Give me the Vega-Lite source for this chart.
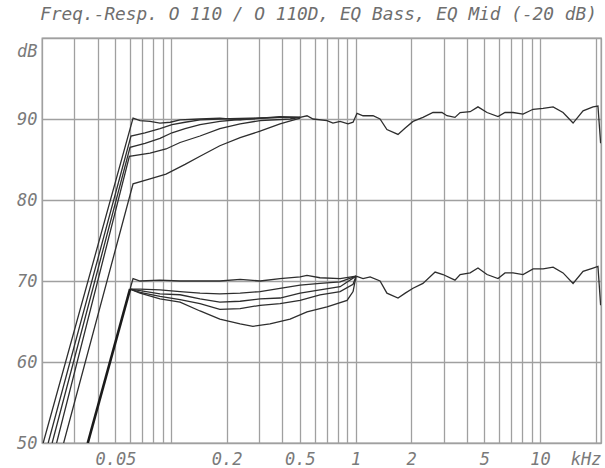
{
  "$schema": "https://vega.github.io/schema/vega-lite/v6.json",
  "width": 559,
  "height": 405,
  "autosize": "none",
  "padding": {"left": 42, "top": 38, "right": 4, "bottom": 25},
  "background": "white",
  "config": {
    "view": {"stroke": "#9a9a9a", "strokeWidth": 1.3},
    "axis": {
      "labelFont": "DejaVu Sans Mono",
      "labelFontStyle": "italic",
      "labelFontSize": 17,
      "labelColor": "#7a7a7a",
      "gridColor": "#a0a0a0",
      "gridWidth": 1.3,
      "gridOpacity": 1,
      "domain": false,
      "ticks": false,
      "title": null
    }
  },
  "title": {
    "text": "Freq.-Resp. O 110 / O 110D, EQ Bass, EQ Mid (-20 dB)",
    "font": "DejaVu Sans Mono",
    "fontSize": 17.8,
    "fontStyle": "italic",
    "fontWeight": "normal",
    "color": "#6e6e6e",
    "anchor": "middle",
    "offset": 14,
    "dx": -3
  },
  "datasets": {
    "curves": [
      {"s": "U1", "f": 0.0203, "db": 50}, {"s": "U1", "f": 0.0623, "db": 90.1}, {"s": "U1", "f": 0.068, "db": 89.8}, {"s": "U1", "f": 0.077, "db": 89.7}, {"s": "U1", "f": 0.0872, "db": 89.5}, {"s": "U1", "f": 0.099, "db": 89.6}, {"s": "U1", "f": 0.112, "db": 89.9}, {"s": "U1", "f": 0.1437, "db": 90.0}, {"s": "U1", "f": 0.184, "db": 90.1}, {"s": "U1", "f": 0.237, "db": 89.9}, {"s": "U1", "f": 0.304, "db": 90.1}, {"s": "U1", "f": 0.39, "db": 90.3}, {"s": "U1", "f": 0.501, "db": 90.2},
      {"s": "U2", "f": 0.0216, "db": 50}, {"s": "U2", "f": 0.0607, "db": 87.9}, {"s": "U2", "f": 0.0723, "db": 88.3}, {"s": "U2", "f": 0.0872, "db": 88.8}, {"s": "U2", "f": 0.1013, "db": 89.3}, {"s": "U2", "f": 0.1192, "db": 89.6}, {"s": "U2", "f": 0.1437, "db": 89.9}, {"s": "U2", "f": 0.184, "db": 90.0}, {"s": "U2", "f": 0.268, "db": 90.1}, {"s": "U2", "f": 0.39, "db": 90.2}, {"s": "U2", "f": 0.501, "db": 90.2},
      {"s": "U3", "f": 0.0227, "db": 50}, {"s": "U3", "f": 0.06, "db": 86.5}, {"s": "U3", "f": 0.0723, "db": 87.0}, {"s": "U3", "f": 0.0872, "db": 87.6}, {"s": "U3", "f": 0.1013, "db": 88.3}, {"s": "U3", "f": 0.1192, "db": 88.8}, {"s": "U3", "f": 0.1437, "db": 89.3}, {"s": "U3", "f": 0.184, "db": 89.7}, {"s": "U3", "f": 0.252, "db": 90.0}, {"s": "U3", "f": 0.39, "db": 90.2}, {"s": "U3", "f": 0.501, "db": 90.2},
      {"s": "U4", "f": 0.0240, "db": 50}, {"s": "U4", "f": 0.0595, "db": 85.4}, {"s": "U4", "f": 0.077, "db": 85.8}, {"s": "U4", "f": 0.094, "db": 86.3}, {"s": "U4", "f": 0.112, "db": 87.1}, {"s": "U4", "f": 0.1437, "db": 87.9}, {"s": "U4", "f": 0.184, "db": 88.8}, {"s": "U4", "f": 0.237, "db": 89.4}, {"s": "U4", "f": 0.304, "db": 89.8}, {"s": "U4", "f": 0.442, "db": 90.0}, {"s": "U4", "f": 0.501, "db": 90.2},
      {"s": "U5", "f": 0.0262, "db": 50}, {"s": "U5", "f": 0.0623, "db": 82.0}, {"s": "U5", "f": 0.077, "db": 82.6}, {"s": "U5", "f": 0.094, "db": 83.2}, {"s": "U5", "f": 0.1192, "db": 84.4}, {"s": "U5", "f": 0.1437, "db": 85.4}, {"s": "U5", "f": 0.184, "db": 86.7}, {"s": "U5", "f": 0.237, "db": 87.7}, {"s": "U5", "f": 0.304, "db": 88.5}, {"s": "U5", "f": 0.39, "db": 89.4}, {"s": "U5", "f": 0.501, "db": 90.1},
      {"s": "UT", "f": 0.501, "db": 90.2}, {"s": "UT", "f": 0.546, "db": 90.4}, {"s": "UT", "f": 0.589, "db": 90.0}, {"s": "UT", "f": 0.701, "db": 89.8}, {"s": "UT", "f": 0.755, "db": 89.5}, {"s": "UT", "f": 0.825, "db": 89.7}, {"s": "UT", "f": 0.911, "db": 89.4}, {"s": "UT", "f": 0.97, "db": 89.6}, {"s": "UT", "f": 1.019, "db": 90.7}, {"s": "UT", "f": 1.099, "db": 90.4}, {"s": "UT", "f": 1.245, "db": 90.4}, {"s": "UT", "f": 1.358, "db": 90.0}, {"s": "UT", "f": 1.48, "db": 88.7}, {"s": "UT", "f": 1.7, "db": 88.1}, {"s": "UT", "f": 1.86, "db": 88.9}, {"s": "UT", "f": 2.05, "db": 89.7}, {"s": "UT", "f": 2.32, "db": 90.2}, {"s": "UT", "f": 2.63, "db": 90.8}, {"s": "UT", "f": 2.94, "db": 90.8}, {"s": "UT", "f": 3.13, "db": 90.4}, {"s": "UT", "f": 3.46, "db": 90.2}, {"s": "UT", "f": 3.69, "db": 90.8}, {"s": "UT", "f": 4.18, "db": 90.9}, {"s": "UT", "f": 4.61, "db": 91.5}, {"s": "UT", "f": 5.16, "db": 90.8}, {"s": "UT", "f": 5.92, "db": 90.3}, {"s": "UT", "f": 6.46, "db": 90.8}, {"s": "UT", "f": 7.14, "db": 90.8}, {"s": "UT", "f": 8.09, "db": 90.6}, {"s": "UT", "f": 9.17, "db": 91.2}, {"s": "UT", "f": 10.39, "db": 91.3}, {"s": "UT", "f": 11.77, "db": 91.5}, {"s": "UT", "f": 13.33, "db": 90.8}, {"s": "UT", "f": 15.1, "db": 89.5}, {"s": "UT", "f": 17.11, "db": 91.0}, {"s": "UT", "f": 19.38, "db": 91.5}, {"s": "UT", "f": 20.6, "db": 91.6}, {"s": "UT", "f": 21.3, "db": 87.0},
      {"s": "L1", "f": 0.06, "db": 69}, {"s": "L1", "f": 0.0623, "db": 70.3}, {"s": "L1", "f": 0.068, "db": 70.0}, {"s": "L1", "f": 0.0872, "db": 70.1}, {"s": "L1", "f": 0.112, "db": 70.0}, {"s": "L1", "f": 0.1437, "db": 70.0}, {"s": "L1", "f": 0.184, "db": 70.0}, {"s": "L1", "f": 0.237, "db": 70.2}, {"s": "L1", "f": 0.304, "db": 70.0}, {"s": "L1", "f": 0.39, "db": 70.3}, {"s": "L1", "f": 0.501, "db": 70.5}, {"s": "L1", "f": 0.546, "db": 70.7}, {"s": "L1", "f": 0.642, "db": 70.4}, {"s": "L1", "f": 0.825, "db": 70.3}, {"s": "L1", "f": 1.007, "db": 70.6},
      {"s": "L2", "f": 0.06, "db": 69}, {"s": "L2", "f": 0.068, "db": 69.0}, {"s": "L2", "f": 0.0872, "db": 68.9}, {"s": "L2", "f": 0.112, "db": 68.7}, {"s": "L2", "f": 0.1437, "db": 68.5}, {"s": "L2", "f": 0.184, "db": 68.4}, {"s": "L2", "f": 0.237, "db": 68.5}, {"s": "L2", "f": 0.304, "db": 68.7}, {"s": "L2", "f": 0.39, "db": 69.1}, {"s": "L2", "f": 0.501, "db": 69.5}, {"s": "L2", "f": 0.642, "db": 69.7}, {"s": "L2", "f": 0.825, "db": 69.9}, {"s": "L2", "f": 1.007, "db": 70.6},
      {"s": "L3", "f": 0.06, "db": 69}, {"s": "L3", "f": 0.068, "db": 68.8}, {"s": "L3", "f": 0.0872, "db": 68.4}, {"s": "L3", "f": 0.112, "db": 68.3}, {"s": "L3", "f": 0.1437, "db": 67.8}, {"s": "L3", "f": 0.184, "db": 67.4}, {"s": "L3", "f": 0.237, "db": 67.5}, {"s": "L3", "f": 0.304, "db": 67.8}, {"s": "L3", "f": 0.39, "db": 67.9}, {"s": "L3", "f": 0.501, "db": 68.5}, {"s": "L3", "f": 0.642, "db": 68.9}, {"s": "L3", "f": 0.825, "db": 69.3}, {"s": "L3", "f": 1.007, "db": 70.6},
      {"s": "L4", "f": 0.06, "db": 69}, {"s": "L4", "f": 0.068, "db": 68.6}, {"s": "L4", "f": 0.0872, "db": 68.1}, {"s": "L4", "f": 0.112, "db": 67.7}, {"s": "L4", "f": 0.1437, "db": 67.2}, {"s": "L4", "f": 0.184, "db": 66.5}, {"s": "L4", "f": 0.237, "db": 66.6}, {"s": "L4", "f": 0.304, "db": 67.0}, {"s": "L4", "f": 0.39, "db": 67.2}, {"s": "L4", "f": 0.501, "db": 67.6}, {"s": "L4", "f": 0.642, "db": 68.3}, {"s": "L4", "f": 0.825, "db": 68.7}, {"s": "L4", "f": 0.97, "db": 69.6}, {"s": "L4", "f": 1.007, "db": 70.6},
      {"s": "L5", "f": 0.06, "db": 69}, {"s": "L5", "f": 0.068, "db": 68.5}, {"s": "L5", "f": 0.0872, "db": 67.8}, {"s": "L5", "f": 0.112, "db": 67.4}, {"s": "L5", "f": 0.1437, "db": 66.3}, {"s": "L5", "f": 0.184, "db": 65.3}, {"s": "L5", "f": 0.237, "db": 64.7}, {"s": "L5", "f": 0.278, "db": 64.4}, {"s": "L5", "f": 0.344, "db": 64.7}, {"s": "L5", "f": 0.442, "db": 65.3}, {"s": "L5", "f": 0.546, "db": 66.2}, {"s": "L5", "f": 0.701, "db": 66.8}, {"s": "L5", "f": 0.9, "db": 67.6}, {"s": "L5", "f": 0.97, "db": 68.7}, {"s": "L5", "f": 1.007, "db": 70.6},
      {"s": "LT", "f": 1.007, "db": 70.6}, {"s": "LT", "f": 1.099, "db": 70.3}, {"s": "LT", "f": 1.2, "db": 70.5}, {"s": "LT", "f": 1.358, "db": 70.0}, {"s": "LT", "f": 1.48, "db": 68.5}, {"s": "LT", "f": 1.7, "db": 67.9}, {"s": "LT", "f": 1.86, "db": 68.5}, {"s": "LT", "f": 2.05, "db": 69.1}, {"s": "LT", "f": 2.32, "db": 69.7}, {"s": "LT", "f": 2.7, "db": 71.1}, {"s": "LT", "f": 2.98, "db": 70.8}, {"s": "LT", "f": 3.46, "db": 70.1}, {"s": "LT", "f": 3.69, "db": 70.8}, {"s": "LT", "f": 4.18, "db": 71.0}, {"s": "LT", "f": 4.61, "db": 71.6}, {"s": "LT", "f": 5.16, "db": 70.8}, {"s": "LT", "f": 5.92, "db": 70.3}, {"s": "LT", "f": 6.46, "db": 71.0}, {"s": "LT", "f": 7.14, "db": 71.0}, {"s": "LT", "f": 8.09, "db": 70.8}, {"s": "LT", "f": 9.17, "db": 71.5}, {"s": "LT", "f": 10.39, "db": 71.5}, {"s": "LT", "f": 11.77, "db": 71.7}, {"s": "LT", "f": 13.33, "db": 71.0}, {"s": "LT", "f": 15.1, "db": 69.7}, {"s": "LT", "f": 17.11, "db": 71.2}, {"s": "LT", "f": 19.38, "db": 71.6}, {"s": "LT", "f": 20.6, "db": 71.8}, {"s": "LT", "f": 21.3, "db": 67.0}
    ],
    "thick": [
      {"s": "LR", "f": 0.0354, "db": 50}, {"s": "LR", "f": 0.06, "db": 69}
    ]
  },
  "layer": [
    {
      "data": {"name": "curves"},
      "mark": {"type": "line", "color": "#2e2e2e", "strokeWidth": 1.3, "clip": true, "interpolate": "linear"},
      "encoding": {
        "x": {
          "field": "f", "type": "quantitative",
          "scale": {"type": "log", "domain": [0.02, 21.4], "nice": false},
          "axis": {
            "values": [0.02, 0.03, 0.04, 0.05, 0.06, 0.07, 0.08, 0.09, 0.1, 0.2, 0.3, 0.4, 0.5, 0.6, 0.7, 0.8, 0.9, 1, 2, 3, 4, 5, 6, 7, 8, 9, 10, 20, 21.4],
            "labelExpr": "datum.value == 21.4 ? 'kHz' : (indexof([0.05, 0.2, 0.5, 1, 2, 5, 10], datum.value) >= 0 ? format(datum.value, '~g') : '')",
            "labelAlign": {"condition": {"test": "datum.value == 21.4", "value": "right"}, "value": "center"},
            "labelPadding": 8,
            "labelFlush": false,
            "labelOverlap": false,
            "grid": true
          }
        },
        "y": {
          "field": "db", "type": "quantitative",
          "scale": {"domain": [50, 100], "nice": false},
          "axis": {
            "values": [50, 60, 70, 80, 90, 100],
            "labelExpr": "datum.value == 100 ? 'dB' : datum.label",
            "labelBaseline": {"condition": {"test": "datum.value == 100", "value": "top"}, "value": "middle"},
            "labelOffset": {"condition": {"test": "datum.value == 100", "value": 5}, "value": 0},
            "labelPadding": 5,
            "labelFlush": false,
            "grid": true
          }
        },
        "detail": {"field": "s", "type": "nominal"}
      }
    },
    {
      "data": {"name": "thick"},
      "mark": {"type": "line", "color": "#1a1a1a", "strokeWidth": 2.6, "clip": true},
      "encoding": {
        "x": {"field": "f", "type": "quantitative"},
        "y": {"field": "db", "type": "quantitative"},
        "detail": {"field": "s", "type": "nominal"}
      }
    }
  ]
}
